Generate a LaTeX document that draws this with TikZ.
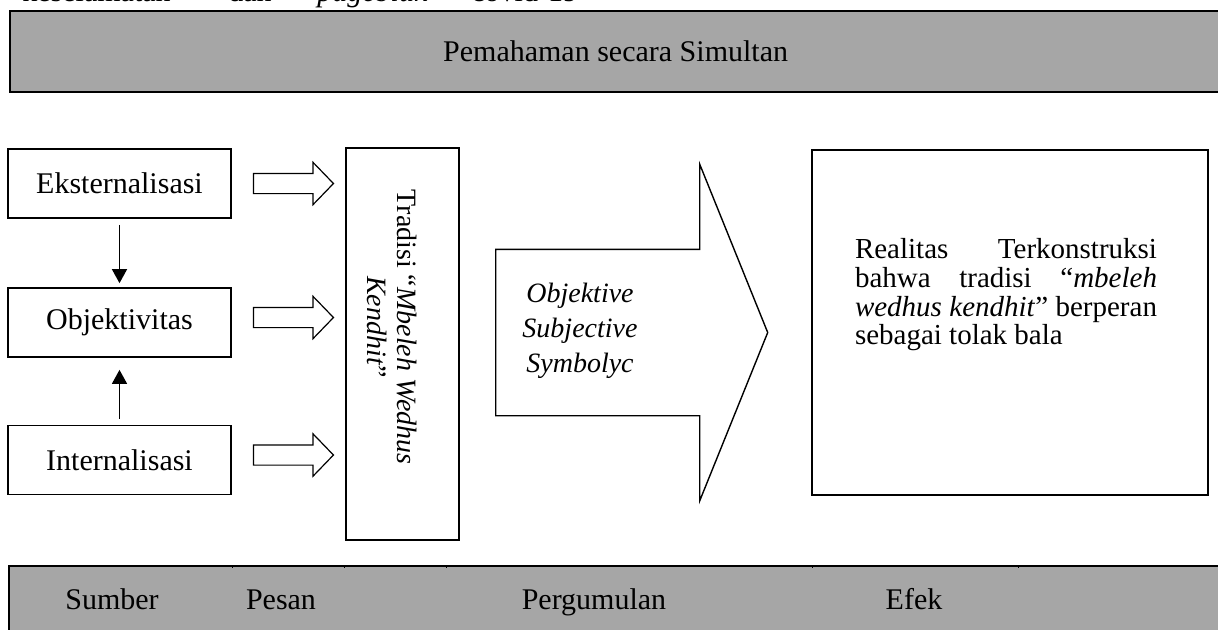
\documentclass[tikz,border=0pt]{standalone}
\usepackage{fontspec}
\setmainfont{Liberation Serif}
\usetikzlibrary{shapes.arrows}
\usetikzlibrary{arrows.meta}

\newcommand{\pxl}{0.5pt}
\definecolor{bargray}{HTML}{A6A6A6}

\tikzset{
  bar/.style = {draw, line width = 1.1pt, fill = bargray, anchor = north west,
    font = \fontsize{15}{18}\selectfont},
  stage/.style = {draw, line width = 0.85pt, minimum width = 223*\pxl,
    minimum height = 69*\pxl, font = \fontsize{15}{18}\selectfont},
  hollow/.style = {single arrow, draw, line width = 0.6pt, anchor = tail,
    inner xsep = 0pt, inner ysep = 9.5*\pxl, minimum height = 80*\pxl,
    single arrow head extend = 11*\pxl, single arrow tip angle = 92},
  pointer/.style = {-{Triangle[length = 7pt, width = 7.5pt]}, line width = 0.75pt}
}

\begin{document}
\begin{tikzpicture}[x = \pxl, y = -\pxl]
  \useasboundingbox (0, 0) rectangle (1218, 629);

  \foreach \x/\w [count = \i] in {22/keselamatan, 228/dan, 317/\textit{pagebluk}, 471/covid-19}{
    \node[anchor = base west, inner sep = 0pt, font = \fontsize{15}{18}\selectfont]
    (cut\i) at (\x, 1) {\w};
  }

  \node[bar, minimum width = 1211*\pxl, minimum height = 81*\pxl] (simultan) at (9, 10)
  {Pemahaman secara Simultan};

  \node[stage] (eks) at (119.5, 183.5) {Eksternalisasi};
  \node[stage] (obj) at (119.5, 322.5) {Objektivitas};
  \node[stage] (int) at (119.5, 460) {Internalisasi};

  \draw[pointer, shorten < = 3pt, shorten > = 2pt] (eks.south) -- (obj.north);
  \draw[pointer, shorten < = 3pt, shorten > = 6pt] (int.north) -- (obj.south);

  \node[draw, line width = 0.85pt, minimum width = 113*\pxl, minimum height = 392*\pxl]
  (trad) at (402.5, 344) {};
  \node[rotate = -90, align = center, font = \fontsize{14}{15}\selectfont]
  (tradtxt) at (392, 327) {Tradisi ``\textit{Mbeleh Wedhus}\\\textit{Kendhit}''};

  \foreach \n/\dy in {eks/0, obj/5, int/5}{
    \node[hollow] (to\n) at ([xshift = 21*\pxl, yshift = \dy*\pxl]\n.east) {};
  }

  \node[single arrow, draw, line width = 0.7pt, anchor = tail, inner xsep = 0pt,
    inner ysep = 82.5*\pxl, minimum height = 272*\pxl,
    single arrow head extend = 85*\pxl, single arrow tip angle = 136]
  (oss) at (495, 332.5) {};
  \node[align = center, font = \fontsize{14}{17.5}\selectfont\itshape]
  (osstxt) at (580, 331) {Objektive\\Subjective\\Symbolyc};

  \node[draw, line width = 0.85pt, minimum width = 396*\pxl, minimum height = 345*\pxl]
  (realitas) at (1010, 322.5) {};
  \node[text width = 151pt, align = justify, inner sep = 0pt,
    font = \fontsize{14.5}{14.35}\selectfont]
  (realtxt) at (1006, 295) {\tolerance=10000\relax\hyphenpenalty=10000\relax
    Realitas Terkonstruksi\linebreak
    bahwa tradisi ``\textit{mbeleh}\linebreak
    \textit{wedhus kendhit}'' berperan\linebreak
    sebagai tolak bala};

  \node[bar, minimum width = 1212*\pxl, minimum height = 90*\pxl] (efekbar) at (8, 565) {};
  \foreach \x in {232, 344, 446, 812, 1018}{
    \draw[line width = 0.5pt] (\x, 565) -- (\x, 568);
  }
  \foreach \x/\w in {112/Sumber, 281/Pesan, 594/Pergumulan, 914/Efek}{
    \node[anchor = base, font = \fontsize{15}{18}\selectfont] (lbl\w) at (\x, 609) {\w};
  }
\end{tikzpicture}
\end{document}
